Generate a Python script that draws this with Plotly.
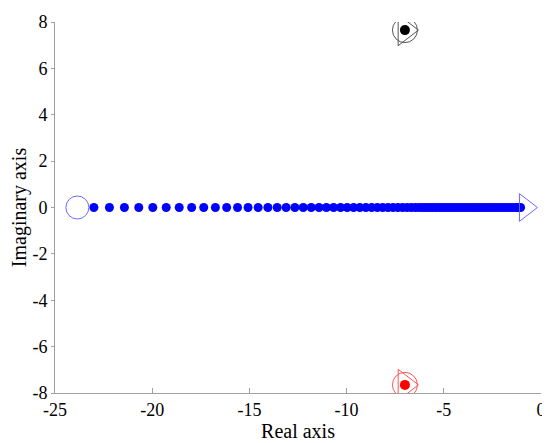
import plotly.graph_objects as go

# eigenvalue trace along the real axis (gain sweep)
locus_re = [-23.00, -22.20, -21.43, -20.69, -19.97, -19.28, -18.61, -17.97, -17.35, -16.75,
            -16.17, -15.61, -15.07, -14.55, -14.05, -13.57, -13.11, -12.66, -12.23, -11.82,
            -11.42, -11.04, -10.67, -10.31, -9.97, -9.64, -9.32, -9.01, -8.71, -8.42,
            -8.14, -7.87, -7.61, -7.36, -7.12, -6.89, -6.67, -6.46, -6.26, -6.08,
            -5.91, -5.74, -5.57, -5.40, -5.23, -5.06, -4.89, -4.72, -4.55, -4.38,
            -4.21, -4.04, -3.87, -3.70, -3.53, -3.36, -3.19, -3.02, -2.85, -2.68,
            -2.51, -2.34, -2.17, -2.00, -1.83, -1.66, -1.49, -1.32, -1.18, -1.05]
locus_im = [0] * len(locus_re)

start_re, start_im = [-23.85], [0]
end_re, end_im = [-0.8], [0]

upper_re, upper_im = [-7.0], [7.65]
lower_re, lower_im = [-7.0], [-7.65]

x_ticks = [-25, -20, -15, -10, -5, 0]
y_ticks = [-8, -6, -4, -2, 0, 2, 4, 6, 8]

serif = "Liberation Serif, Times New Roman, serif"
font = dict(family=serif, size=17, color="black")

data = [
    go.Scatter(x=locus_re, y=locus_im, mode="markers",
               marker=dict(size=9, color="#0000ff")),
    go.Scatter(x=start_re, y=start_im, mode="markers",
               marker=dict(symbol="circle-open", size=23, color="#6a6aff", line=dict(width=1))),
    go.Scatter(x=end_re, y=end_im, mode="markers",
               marker=dict(symbol="triangle-right-open", size=24, color="#6a6aff", line=dict(width=1))),
]

for re, im, c, c2 in [(upper_re, upper_im, "black", "#555555"), (lower_re, lower_im, "#ff0000", "#ff5555")]:
    data.append(go.Scatter(x=re, y=im, mode="markers",
                           marker=dict(symbol="circle-open", size=25, color=c2, line=dict(width=1))))
    data.append(go.Scatter(x=re, y=im, mode="markers",
                           marker=dict(symbol="triangle-right-open", size=27, color=c2, line=dict(width=1))))
    data.append(go.Scatter(x=re, y=im, mode="markers",
                           marker=dict(size=10, color=c)))

layout = go.Layout(
    width=550, height=443,
    margin=dict(l=47, r=17, t=14, b=58),
    paper_bgcolor="white", plot_bgcolor="white",
    showlegend=False, font=font,
    xaxis=dict(range=[-25, 0], tickvals=x_ticks, ticktext=[str(v) for v in x_ticks],
               showgrid=False, zeroline=False, automargin=False,
               showline=True, linecolor="#a0a0a0", linewidth=1,
               ticks="inside", ticklen=5, tickcolor="#a0a0a0",
               tickfont=dict(family=serif, size=18, color="black"),
               title=dict(text="Real axis", standoff=2)),
    yaxis=dict(range=[-8, 8], tickvals=y_ticks, ticktext=[str(v) for v in y_ticks],
               showgrid=False, zeroline=False, automargin=False,
               showline=True, linecolor="#a0a0a0", linewidth=1,
               ticks="outside", ticklen=3, tickcolor="#a0a0a0",
               tickfont=dict(family=serif, size=18, color="black"),
               title=dict(text="Imaginary axis", standoff=2)),
)

fig = go.Figure(data=data, layout=layout)
fig.write_html("out.html")
